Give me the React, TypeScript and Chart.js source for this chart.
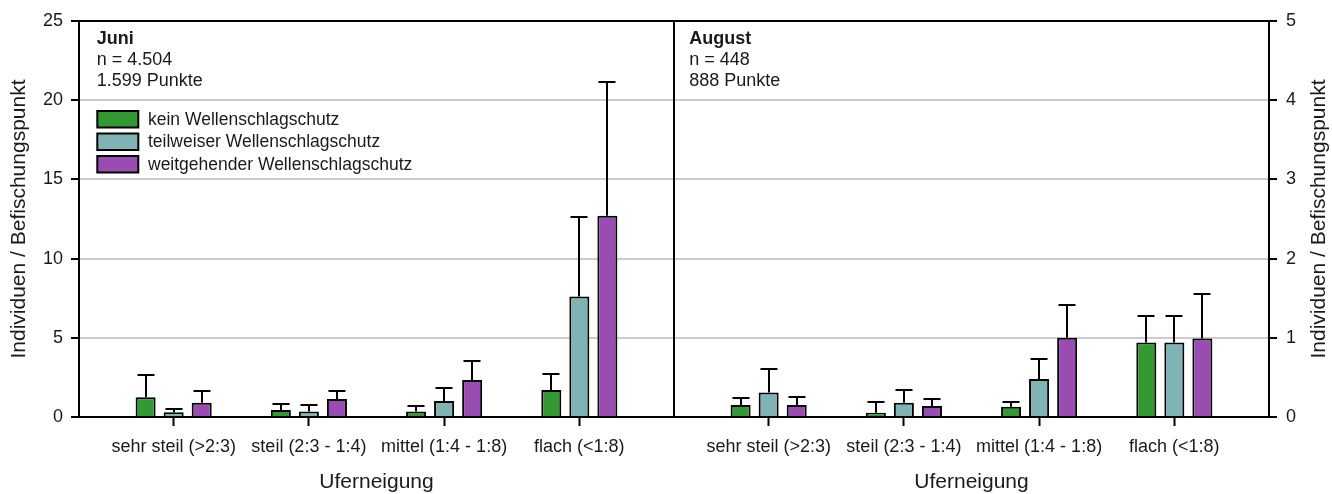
import React, { useEffect, useRef } from 'react';
import { Chart, registerables } from 'chart.js';

Chart.register(...registerables);

// ---------- data ----------
const categories = ['sehr steil (>2:3)', 'steil (2:3 - 1:4)', 'mittel (1:4 - 1:8)', 'flach (<1:8)'];
const seriesLabels = ['kein Wellenschlagschutz', 'teilweiser Wellenschlagschutz', 'weitgehender Wellenschlagschutz'];
const seriesColors = ['#339933', '#80b3b3', '#994db3'];

const juniKein = [1.24, 0.44, 0.34, 1.7];
const juniTeil = [0.3, 0.34, 1.01, 7.6];
const juniWeit = [0.9, 1.14, 2.34, 12.71];
const juniKeinSd = [1.39, 0.38, 0.35, 1.04];
const juniTeilSd = [0.22, 0.4, 0.82, 5.05];
const juniWeitSd = [0.76, 0.5, 1.22, 8.46];

const augKein = [0.15, 0.055, 0.13, 0.94];
const augTeil = [0.31, 0.18, 0.48, 0.94];
const augWeit = [0.15, 0.14, 1.0, 0.99];
const augKeinSd = [0.09, 0.135, 0.06, 0.33];
const augTeilSd = [0.29, 0.16, 0.25, 0.34];
const augWeitSd = [0.1, 0.09, 0.41, 0.56];

const juniYTicks = [0, 5, 10, 15, 20, 25];
const augYTicks = [0, 1, 2, 3, 4, 5];

const juniInfo = ['Juni', 'n = 4.504', '1.599 Punkte'];
const augInfo = ['August', 'n = 448', '888 Punkte'];

const yTitle = 'Individuen / Befischungspunkt';
const xTitle = 'Uferneigung';

// ---------- styling ----------
const FONT = "'Liberation Sans', Arial, sans-serif";
const TEXT = '#1a1a1a';

type PanelCfg = {
  side: 'left' | 'right';
  means: number[][];
  sds: number[][];
  info: string[];
  yTicks: number[];
  legend: boolean;
  headerX: number;
};

function makeConfig(p: PanelCfg): any {
  const datasets = p.means.map((vals, s) => ({
    label: seriesLabels[s],
    data: vals.map((y, i) => ({ x: i, y })),
    errors: p.sds[s],
    backgroundColor: seriesColors[s],
    borderColor: '#000',
    borderWidth: 2,
    barPercentage: 0.714,
    categoryPercentage: 0.622,
  }));

  const plugins = [
    {
      id: 'errorBars',
      afterDatasetsDraw(chart: any) {
        const ctx = chart.ctx;
        const yScale = chart.scales.y;
        ctx.save();
        ctx.strokeStyle = '#000';
        ctx.lineWidth = 2;
        chart.data.datasets.forEach((ds: any, d: number) => {
          const meta = chart.getDatasetMeta(d);
          meta.data.forEach((bar: any, i: number) => {
            const top = ds.data[i].y + ds.errors[i];
            const yTop = Math.round(yScale.getPixelForValue(top));
            const x = Math.round(bar.x);
            ctx.beginPath();
            ctx.moveTo(x, bar.y);
            ctx.lineTo(x, yTop);
            ctx.moveTo(x - 8.5, yTop);
            ctx.lineTo(x + 8.5, yTop);
            ctx.stroke();
          });
        });
        ctx.restore();
      },
    },
    {
      id: 'frameAndText',
      afterDraw(chart: any) {
        const ctx = chart.ctx;
        const a = chart.chartArea;
        ctx.save();
        // frame
        ctx.strokeStyle = '#000';
        ctx.lineWidth = 2;
        ctx.strokeRect(Math.round(a.left), Math.round(a.top), Math.round(a.right) - Math.round(a.left), Math.round(a.bottom) - Math.round(a.top));
        // header
        ctx.fillStyle = TEXT;
        ctx.textBaseline = 'alphabetic';
        ctx.textAlign = 'left';
        const baselines = [23.3, 44, 64.5];
        p.info.forEach((line, k) => {
          ctx.font = (k === 0 ? 'bold ' : '') + '18px ' + FONT;
          ctx.fillText(line, a.left + p.headerX, a.top + baselines[k]);
        });
        // legend
        if (p.legend) {
          const boxTops = [90, 112.5, 135];
          chart.data.datasets.forEach((ds: any, s: number) => {
            const bx = a.left + 18.3;
            const by = a.top + boxTops[s];
            ctx.fillStyle = ds.backgroundColor;
            ctx.fillRect(bx, by, 41, 16.5);
            ctx.strokeStyle = '#000';
            ctx.lineWidth = 2;
            ctx.strokeRect(bx, by, 41, 16.5);
            ctx.fillStyle = TEXT;
            ctx.font = '17.5px ' + FONT;
            ctx.textBaseline = 'middle';
            ctx.fillText(ds.label, a.left + 69, by + 8.8);
          });
        }
        // right axis title (reads bottom to top)
        if (p.side === 'right') {
          const ys = chart.scales.y;
          ctx.font = '21px ' + FONT;
          ctx.fillStyle = TEXT;
          ctx.textAlign = 'center';
          ctx.textBaseline = 'middle';
          ctx.translate(ys.right - 12.6, (a.top + a.bottom) / 2);
          ctx.rotate(-Math.PI / 2);
          ctx.fillText(yTitle, 0, 0);
        }
        ctx.restore();
      },
    },
  ];

  const yMin = p.yTicks[0];
  const yMax = p.yTicks[p.yTicks.length - 1];
  const yStep = p.yTicks[1] - p.yTicks[0];

  return {
    type: 'bar',
    data: { datasets },
    plugins,
    options: {
      animation: false,
      responsive: false,
      events: [],
      layout: {
        padding: p.side === 'left' ? { left: 0, top: 21, right: 26, bottom: 0 } : { left: 34, top: 21, right: 0, bottom: 0 },
      },
      plugins: { legend: { display: false }, tooltip: { enabled: false } },
      scales: {
        x: {
          type: 'linear',
          position: 'bottom',
          min: -0.7,
          max: 3.7,
          offset: false,
          ticks: {
            stepSize: 1,
            includeBounds: false,
            autoSkip: false,
            maxRotation: 0,
            minRotation: 0,
            padding: 10,
            color: TEXT,
            font: { family: FONT, size: 18 },
            callback: (v: number) => (Number.isInteger(v) && categories[v] !== undefined ? categories[v] : ''),
          },
          grid: { offset: false, drawOnChartArea: false, drawTicks: true, tickLength: 9, tickColor: '#000', tickWidth: 2 },
          border: { display: true, color: '#000', width: 2 },
          title: {
            display: true,
            text: xTitle,
            color: TEXT,
            font: { family: FONT, size: 21 },
            padding: { top: 0, bottom: -1 },
          },
          afterFit: (s: any) => {
            s.height = 77;
          },
        },
        y: {
          position: p.side,
          min: yMin,
          max: yMax,
          ticks: {
            stepSize: yStep,
            padding: p.side === 'left' ? 8 : 9,
            color: TEXT,
            font: { family: FONT, size: 18 },
          },
          grid: { color: '#cccccc', lineWidth: 2, drawTicks: true, tickLength: 8, tickColor: '#000', tickWidth: 2 },
          border: { display: true, color: '#000', width: 2 },
          title: {
            display: p.side === 'left',
            text: yTitle,
            color: TEXT,
            font: { family: FONT, size: 21 },
            padding: { top: 7, bottom: 0 },
          },
          afterFit: (s: any) => {
            s.width = p.side === 'left' ? 79 : 63;
          },
        },
      },
    },
  };
}

function Panel(props: { cfg: PanelCfg; left: number; width: number }) {
  const ref = useRef<HTMLCanvasElement | null>(null);
  useEffect(() => {
    if (!ref.current) return;
    const chart = new Chart(ref.current, makeConfig(props.cfg));
    return () => chart.destroy();
  }, []);
  return (
    <canvas
      ref={ref}
      width={props.width}
      height={494}
      style={{ position: 'absolute', left: props.left, top: 0, width: props.width, height: 494 }}
    />
  );
}

export default function App() {
  const juni: PanelCfg = {
    side: 'left',
    means: [juniKein, juniTeil, juniWeit],
    sds: [juniKeinSd, juniTeilSd, juniWeitSd],
    info: juniInfo,
    yTicks: juniYTicks,
    legend: true,
    headerX: 17.7,
  };
  const aug: PanelCfg = {
    side: 'right',
    means: [augKein, augTeil, augWeit],
    sds: [augKeinSd, augTeilSd, augWeitSd],
    info: augInfo,
    yTicks: augYTicks,
    legend: false,
    headerX: 15.3,
  };
  return (
    <div style={{ position: 'fixed', left: 0, top: 0, width: 1332, height: 494, background: '#fff', overflow: 'hidden' }}>
      <Panel cfg={juni} left={0} width={700} />
      <Panel cfg={aug} left={640} width={692} />
    </div>
  );
}
